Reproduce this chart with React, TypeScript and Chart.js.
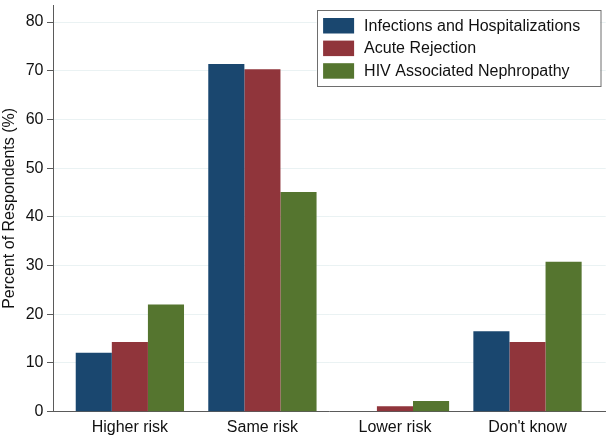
import React, { useEffect, useRef } from "react";
import { Chart, registerables } from "chart.js";

Chart.register(...registerables);

const categories = ["Higher risk", "Same risk", "Lower risk", "Don't know"];
const seriesNames = [
  "Infections and Hospitalizations",
  "Acute Rejection",
  "HIV Associated Nephropathy",
];
const infections = [12.1, 71.4, 0, 16.5];
const rejection = [14.3, 70.3, 1.1, 14.3];
const hivan = [22.0, 45.1, 2.2, 30.8];
const colors = ["#1a476f", "#90353b", "#55752f"];
const yTicks = [0, 10, 20, 30, 40, 50, 60, 70, 80];

const FONT = "'Liberation Sans', Arial, Helvetica, sans-serif";

const legendPlugin = {
  id: "boxLegend",
  afterDraw(chart: any) {
    const ctx = chart.ctx;
    const area = chart.chartArea;
    const boxW = 283.5;
    const boxH = 76;
    const bx = area.right - 5.7 - boxW;
    const by = area.top + 5;
    ctx.save();
    ctx.fillStyle = "#ffffff";
    ctx.fillRect(bx, by, boxW, boxH);
    ctx.strokeStyle = "#6e6e6e";
    ctx.lineWidth = 1;
    ctx.strokeRect(Math.round(bx) + 0.5, Math.round(by) + 0.5, boxW, boxH);
    ctx.font = `16px ${FONT}`;
    ctx.textBaseline = "middle";
    ctx.textAlign = "left";
    chart.data.datasets.forEach((ds: any, i: number) => {
      const sy = by + 8 + i * 22.6;
      ctx.fillStyle = ds.backgroundColor;
      ctx.fillRect(bx + 6.6, sy, 31, 15.5);
      ctx.fillStyle = "#111111";
      ctx.fillText(ds.label, bx + 47.6, sy + 8.2);
    });
    ctx.restore();
  },
};

export default function App() {
  const canvasRef = useRef<HTMLCanvasElement | null>(null);

  useEffect(() => {
    document.body.style.margin = "0";
    const canvas = canvasRef.current;
    if (!canvas) return;
    const datasets = [infections, rejection, hivan].map((vals, i) => ({
      label: seriesNames[i],
      data: vals.map((v, j) => ({ x: j, y: v })),
      backgroundColor: colors[i],
      borderWidth: 0,
      categoryPercentage: 0.817,
      barPercentage: 1.0,
    }));
    const chart = new Chart(canvas, {
      type: "bar",
      data: { datasets },
      options: {
        animation: false,
        responsive: false,
        maintainAspectRatio: false,
        layout: { padding: { left: 0, right: 6.3, top: 5, bottom: 0 } },
        plugins: {
          legend: { display: false },
          tooltip: { enabled: false },
        },
        scales: {
          x: {
            type: "linear",
            offset: false,
            min: -0.58,
            max: 3.59,
            grid: { display: false, drawTicks: false, offset: false },
            border: { display: true, color: "#5a5a5a", width: 1 },
            afterBuildTicks: (s: any) => {
              s.ticks = categories.map((_, i) => ({ value: i }));
            },
            ticks: {
              includeBounds: false,
              autoSkip: false,
              maxRotation: 0,
              padding: 6,
              color: "#111111",
              font: { family: FONT, size: 16 },
              callback: (v: any) =>
                Number.isInteger(v) && categories[v] !== undefined ? categories[v] : "",
            },
            afterFit: (s: any) => {
              s.height = 26.3;
              s.paddingLeft = 0;
              s.paddingRight = 0;
            },
          },
          y: {
            type: "linear",
            min: 0,
            max: 83.5,
            grid: {
              color: "#eaf2f3",
              lineWidth: 1,
              drawTicks: true,
              tickLength: 6,
              tickColor: "#5a5a5a",
            },
            border: { display: true, color: "#5a5a5a", width: 1 },
            afterBuildTicks: (s: any) => {
              s.ticks = yTicks.map((v) => ({ value: v }));
            },
            ticks: {
              includeBounds: false,
              padding: 3.5,
              color: "#111111",
              font: { family: FONT, size: 16 },
            },
            title: {
              display: true,
              text: "Percent of Respondents (%)",
              color: "#111111",
              font: { family: FONT, size: 16 },
              padding: { top: 0, bottom: 0 },
            },
            afterFit: (s: any) => {
              s.width = 53;
              s.paddingTop = 0;
              s.paddingBottom = 0;
            },
          },
        },
      },
      plugins: [legendPlugin],
    } as any);
    return () => chart.destroy();
  }, []);

  return (
    <div style={{ width: 612, height: 438, background: "#ffffff" }}>
      <canvas ref={canvasRef} width={612} height={438} style={{ display: "block" }} />
    </div>
  );
}
